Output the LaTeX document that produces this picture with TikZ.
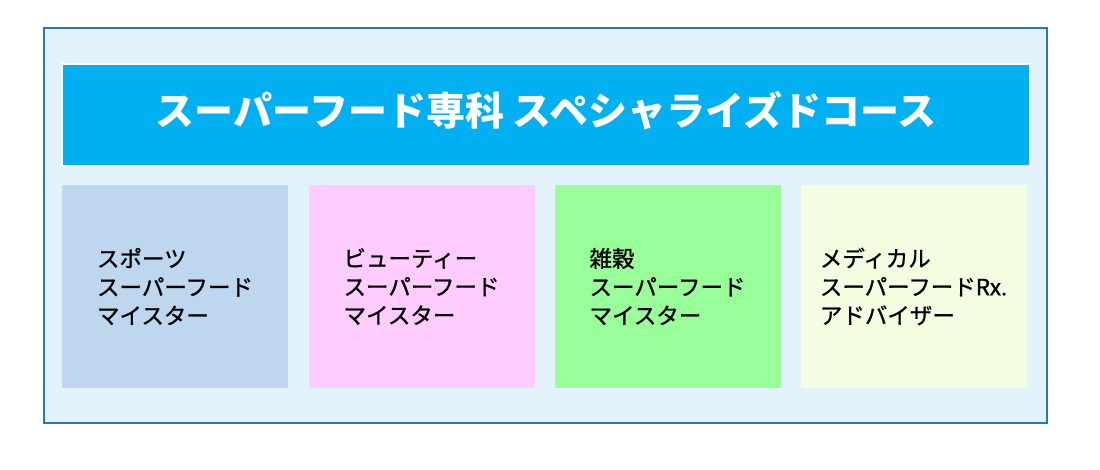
\documentclass[tikz,border=0pt]{standalone}
\usepackage{fontspec}
\newfontfamily\jpfont{Noto Sans CJK JP}
\newfontfamily\jpboxfont[FakeBold=1]{Noto Sans CJK JP}

\definecolor{framefill}{HTML}{E3F3FB}
\definecolor{frameline}{HTML}{2E75B6}
\definecolor{titlefill}{HTML}{00B0F0}
\definecolor{sportsfill}{HTML}{BDD7EE}
\definecolor{beautyfill}{HTML}{FFCCFF}
\definecolor{grainfill}{HTML}{99FF99}
\definecolor{medicalfill}{HTML}{F3FFE0}

\tikzset{
  titlebox/.style={fill=titlefill, draw=white, line width=1.5pt, inner sep=0pt,
    minimum width=968pt, minimum height=102pt},
  titletext/.style={text=white, inner sep=0pt,
    font=\jpfont\bfseries\fontsize{39}{42}\selectfont},
  meisterbox/.style={inner sep=0pt, minimum width=226pt, minimum height=203pt},
  meistertext/.style={align=left, inner sep=0pt,
    font=\jpboxfont\fontsize{22.5}{28.5}\selectfont}
}

\begin{document}
\begin{tikzpicture}[x=1pt, y=-1pt]

        \useasboundingbox (0,0) rectangle (1100,469);

        % Outer frame
        \draw[frameline, line width=2.8pt, fill=framefill] (44,28) rectangle (1047,423);

        % Course title
        \node[titlebox] (course) at (546,115) {};
        \node[titletext] (title) at (546,111) {スーパーフード専科 スペシャライズドコース};

        % Four meister boxes
        \node[meisterbox, fill=sportsfill]  (sports)  at ( 175.0,286.5) {};
        \node[meisterbox, fill=beautyfill]  (beauty)  at ( 421.5,286.5) {};
        \node[meisterbox, fill=grainfill]   (grain)   at ( 667.5,286.5) {};
        \node[meisterbox, fill=medicalfill] (medical) at ( 913.5,286.5) {};

        \node[meistertext] (sportsname)  at (sports)  {スポーツ\\スーパーフード\\マイスター};
        \node[meistertext] (beautyname)  at (beauty)  {ビューティー\\スーパーフード\\マイスター};
        \node[meistertext] (grainname)   at (grain)   {雑穀\\スーパーフード\\マイスター};
        \node[meistertext] (medicalname) at (medical) {メディカル\\スーパーフードRx.\\アドバイザー};

    \end{tikzpicture}
\end{document}
